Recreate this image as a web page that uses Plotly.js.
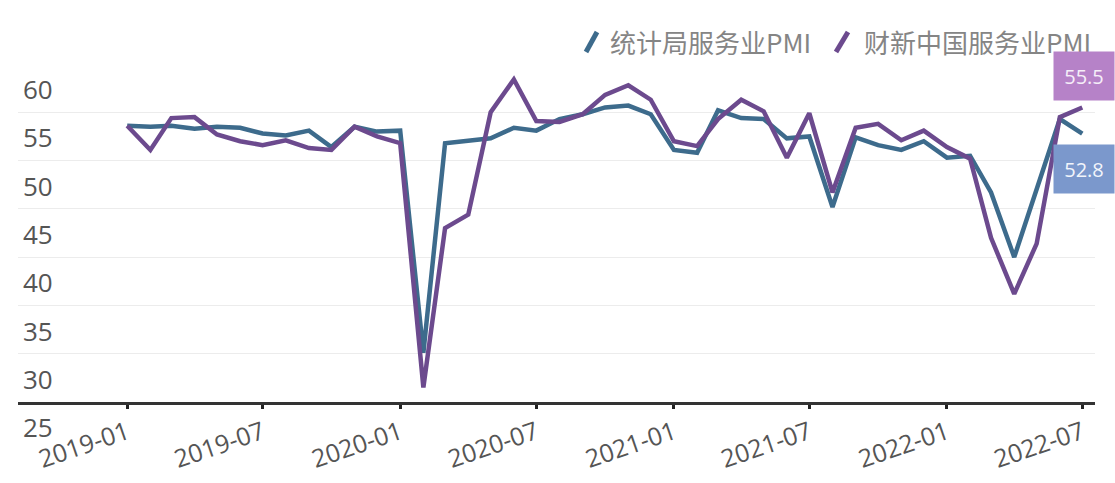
<!DOCTYPE html>
<html>
<head>
<meta charset="utf-8">
<script src="https://cdn.plot.ly/plotly-3.0.1.min.js"></script>
<style>
  html, body { margin: 0; padding: 0; background: #ffffff; }
  #chart { width: 1115px; height: 483px; }
</style>
</head>
<body>
<div id="chart"></div>
<script>
// ---- data ----
const months = [
  '2019-01','2019-02','2019-03','2019-04','2019-05','2019-06','2019-07','2019-08','2019-09','2019-10','2019-11','2019-12',
  '2020-01','2020-02','2020-03','2020-04','2020-05','2020-06','2020-07','2020-08','2020-09','2020-10','2020-11','2020-12',
  '2021-01','2021-02','2021-03','2021-04','2021-05','2021-06','2021-07','2021-08','2021-09','2021-10','2021-11','2021-12',
  '2022-01','2022-02','2022-03','2022-04','2022-05','2022-06','2022-07'
];
const nbsServicePMI = [
  53.6, 53.5, 53.6, 53.3, 53.5, 53.4, 52.8, 52.6, 53.1, 51.4, 53.5, 53.0,
  53.1, 30.1, 51.8, 52.1, 52.3, 53.4, 53.1, 54.3, 54.8, 55.5, 55.7, 54.8,
  51.1, 50.8, 55.2, 54.4, 54.3, 52.3, 52.5, 45.2, 52.4, 51.6, 51.1, 52.0,
  50.3, 50.5, 46.7, 40.0, 47.1, 54.3, 52.8
];
const caixinServicePMI = [
  53.6, 51.1, 54.4, 54.5, 52.7, 52.0, 51.6, 52.1, 51.3, 51.1, 53.5, 52.5,
  51.8, 26.5, 43.0, 44.4, 55.0, 58.4, 54.1, 54.0, 54.8, 56.8, 57.8, 56.3,
  52.0, 51.5, 54.3, 56.3, 55.1, 50.3, 54.9, 46.7, 53.4, 53.8, 52.1, 53.1,
  51.4, 50.2, 42.0, 36.2, 41.4, 54.5, 55.5
];
const seriesNames = ['统计局服务业PMI', '财新中国服务业PMI'];
const xTickVals = ['2019-01','2019-07','2020-01','2020-07','2021-01','2021-07','2022-01','2022-07'];
const yTickVals = [25, 30, 35, 40, 45, 50, 55, 60];

// ---- styles ----
const blue = '#3d6b8c';
const purple = '#6c4a8e';
const W = 1115, H = 483;
const M = { l: 18, r: 20, t: 64, b: 81 };
const PW = W - M.l - M.r, PH = H - M.t - M.b;
const px2x = px => (px - M.l) / PW;
const px2y = py => (H - M.b - py) / PH;

const traces = [
  { x: months, y: nbsServicePMI, name: seriesNames[0], type: 'scatter', mode: 'lines',
    line: { color: blue, width: 4.5 }, hoverinfo: 'x+y+name' },
  { x: months, y: caixinServicePMI, name: seriesNames[1], type: 'scatter', mode: 'lines',
    line: { color: purple, width: 4.5 }, hoverinfo: 'x+y+name' }
];

const last = months.length - 1;
const legendFont = { family: 'Noto Sans CJK SC, Noto Sans, sans-serif', size: 26, color: '#858585' };

const layout = {
  width: W, height: H,
  margin: M,
  paper_bgcolor: '#ffffff',
  plot_bgcolor: '#ffffff',
  showlegend: false,
  xaxis: {
    type: 'date',
    range: ['2018-08-08', '2022-07-18'],
    tickvals: xTickVals,
    ticktext: xTickVals,
    tickangle: -19,
    tickfont: { family: 'Open Sans, sans-serif', size: 25, color: '#555' },
    showgrid: false,
    zeroline: false,
    showline: true,
    linecolor: '#333',
    linewidth: 2.5,
    ticks: 'outside',
    ticklen: 4,
    tickwidth: 3,
    tickcolor: '#222'
  },
  yaxis: {
    range: [25, 60],
    tickvals: yTickVals,
    ticktext: yTickVals.map(String),
    ticklabelposition: 'inside',
    ticklabeloverflow: 'allow',
    ticklabelshift: 26,
    ticklabelstandoff: 2,
    tickfont: { family: 'Open Sans, sans-serif', size: 26, color: '#555' },
    showgrid: true,
    gridcolor: '#ececec',
    gridwidth: 1,
    zeroline: false,
    showline: false,
    ticks: ''
  },
  shapes: [
    { type: 'line', xref: 'paper', yref: 'paper', x0: px2x(586), y0: px2y(52), x1: px2x(597), y1: px2y(32),
      line: { color: blue, width: 5 } },
    { type: 'line', xref: 'paper', yref: 'paper', x0: px2x(836), y0: px2y(52), x1: px2x(848), y1: px2y(32),
      line: { color: purple, width: 5 } }
  ],
  annotations: [
    { xref: 'paper', yref: 'paper', x: px2x(608), y: px2y(42), xanchor: 'left', yanchor: 'middle',
      text: seriesNames[0], showarrow: false, font: legendFont },
    { xref: 'paper', yref: 'paper', x: px2x(862), y: px2y(42), xanchor: 'left', yanchor: 'middle',
      text: seriesNames[1], showarrow: false, font: legendFont },
    { x: months[last], y: caixinServicePMI[last], xref: 'x', yref: 'y',
      text: caixinServicePMI[last].toFixed(1), showarrow: false,
      xanchor: 'center', yanchor: 'middle', xshift: 2, yshift: 31,
      width: 44, height: 32, borderpad: 8,
      bgcolor: '#b682c8',
      font: { family: 'Open Sans, sans-serif', size: 20, color: '#f5eef8' } },
    { x: months[last], y: nbsServicePMI[last], xref: 'x', yref: 'y',
      text: nbsServicePMI[last].toFixed(1), showarrow: false,
      xanchor: 'center', yanchor: 'middle', xshift: 2, yshift: -35,
      width: 44, height: 32, borderpad: 8,
      bgcolor: '#7b98cc',
      font: { family: 'Open Sans, sans-serif', size: 20, color: '#f2f5fb' } }
  ]
};

Plotly.newPlot('chart', traces, layout, { displayModeBar: false, staticPlot: true });
</script>
</body>
</html>
